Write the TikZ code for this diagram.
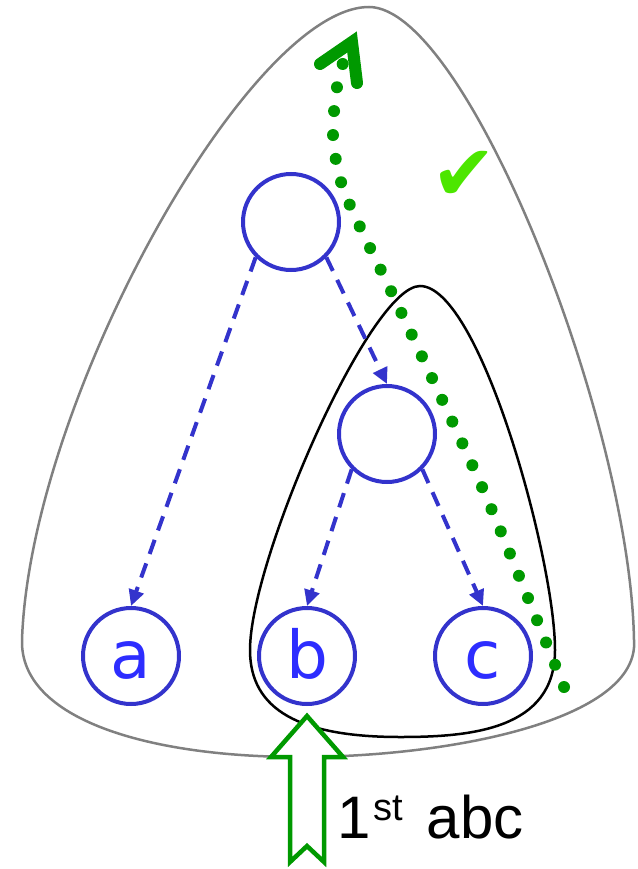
\documentclass[tikz,border=0pt]{standalone}
\usepackage{fontspec}
\setmainfont{Liberation Sans}
\newfontfamily\dejavu{DejaVu Sans}
\usetikzlibrary{arrows.meta}
\definecolor{bluecirc}{RGB}{51,51,204}
\definecolor{bluetext}{RGB}{45,45,255}
\definecolor{dkgreen}{RGB}{0,153,0}
\definecolor{chkgreen}{RGB}{76,230,0}
\definecolor{outlinegray}{RGB}{128,128,128}
\begin{document}
\begin{tikzpicture}[x=1pt,y=-1pt,
  vertex/.style={circle, draw=bluecirc, line width=4pt, minimum size=96pt, inner sep=0pt,
    text=bluetext, font=\dejavu\fontsize{66}{66}\selectfont, text height=45pt, text depth=0pt},
  treeedge/.style={draw=bluecirc, line width=4pt, dash pattern=on 15pt off 10pt,
    -{Triangle[length=16pt,width=15pt]}},
  bigoutline/.style={draw=outlinegray, line width=2.5pt},
  suboutline/.style={draw=black, line width=2.5pt},
  dotline/.style={draw=dkgreen, line width=12pt, line cap=round, dash pattern=on 0pt off 24pt},
  dothead/.style={draw=dkgreen, line width=12pt, line cap=round, line join=miter},
  hollowarrow/.style={draw=dkgreen, fill=white, line width=4.5pt, line join=miter}
]
\useasboundingbox (0,0) rectangle (637,869);

% outlines
\draw[bigoutline] (369,7) .. controls (466,7) and (630,420) .. (634,640)
  .. controls (640,720) and (450,757) .. (300,757)
  .. controls (150,757) and (20,720) .. (22,640)
  .. controls (30,400) and (250,7) .. (369,7) -- cycle;
\draw[suboutline] (420,286) .. controls (480,286) and (555,560) .. (555,650)
  .. controls (555,730) and (470,737) .. (400,737)
  .. controls (300,737) and (250,710) .. (250,650)
  .. controls (250,560) and (370,286) .. (420,286) -- cycle;

% nodes
\node[vertex] (top) at (291,222) {};
\node[vertex] (mid) at (387,434) {};
\node[vertex] (a) at (131,656) {a};
\node[vertex] (b) at (307,656) {b};
\node[vertex] (c) at (483,656) {c};

\draw[treeedge] (top.225) -- (a.north);
\draw[treeedge] (top.315) -- (mid.north);
\draw[treeedge] (mid.225) -- (b.north);
\draw[treeedge] (mid.315) -- (c.north);

% dotted traversal
\coordinate (dstart) at (564,687);
\coordinate (dend) at (343,63);
\coordinate (hleft) at (320,64);
\coordinate (htip) at (352,42);
\coordinate (hright) at (357,83);
\draw[dotline] plot[smooth, tension=0.55] coordinates {(dstart) (528,598) (482,487) (432,378) (391,291) (360,227) (341,182) (333,135) (337,87) (dend)};
\draw[dothead] (hleft) -- (htip) -- (hright);

% check mark
\node[text=chkgreen, font=\dejavu\fontsize{78}{78}\selectfont, inner sep=0pt] (chk) at (464,176) {✔};

% hollow arrow
\draw[hollowarrow] (307,716) -- (343,757) -- (324,757) -- (324,862) -- (307,846) -- (290,862) -- (290,757) -- (271,757) -- cycle;

% label
\node[anchor=base west, inner sep=0pt, font=\fontsize{60}{60}\selectfont] (lbl) at (337,838)
  {1\hspace{3pt}\raisebox{18pt}{\fontsize{38}{38}\selectfont st}\hspace{7pt} abc};
\end{tikzpicture}
\end{document}
